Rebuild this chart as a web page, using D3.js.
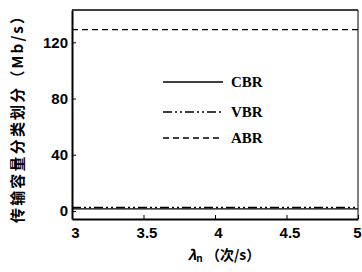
<!DOCTYPE html>
<html>
<head>
<meta charset="utf-8">
<script src="https://cdn.jsdelivr.net/npm/d3@7"></script>
<style>
  body { margin: 0; background: #fff; }
</style>
</head>
<body>
<div id="plot"></div>
<script>
// values
const xs = [3, 3.5, 4, 4.5, 5];
const cbr = [1.5, 1.5, 1.5, 1.5, 1.5];
const vbr = [2.5, 2.5, 2.5, 2.5, 2.5];
const abr = [129, 129, 129, 129, 129];
const xTicks = [3, 3.5, 4, 4.5, 5];
const yTicks = [0, 40, 80, 120];
const names = ["CBR", "VBR", "ABR"];

const W = 362, H = 272;
const mLeft = 72, mRight = 358, mTop = 10, mBottom = 219;

const svg = d3.select("div#plot").append("svg")
  .attr("width", W).attr("height", H);

const x = d3.scaleLinear().domain([3, 5]).range([mLeft, mRight]);
const y = d3.scaleLinear().domain([-5.7, 143]).range([mBottom, mTop]);

const dashes = ["none", "9,3,2,3,2,3", "6,4"];
const series = [cbr, vbr, abr];

// frame
svg.append("line").attr("x1", mLeft).attr("x2", mRight).attr("y1", mTop).attr("y2", mTop)
  .attr("stroke", "#000").attr("stroke-width", 1.4);
svg.append("line").attr("x1", mRight).attr("x2", mRight).attr("y1", mTop).attr("y2", mBottom)
  .attr("stroke", "#000").attr("stroke-width", 1);

const line = d3.line().x((d, i) => x(xs[i])).y(d => y(d));
svg.selectAll(".series")
  .data(series)
  .enter().append("path")
  .attr("class", "series")
  .attr("d", d => line(d))
  .attr("fill", "none")
  .attr("stroke", "#000")
  .attr("stroke-width", 1.3)
  .attr("stroke-dasharray", (d, i) => dashes[i]);

// axes
const xAxis = d3.axisBottom(x).tickValues(xTicks).tickSizeInner(-4).tickSizeOuter(0)
  .tickPadding(8).tickFormat(d3.format("~g"));
const gx = svg.append("g").attr("transform", `translate(0,${mBottom})`).call(xAxis);
const yAxis = d3.axisLeft(y).tickValues(yTicks).tickSizeInner(-4).tickSizeOuter(0)
  .tickPadding(4);
const gy = svg.append("g").attr("transform", `translate(${mLeft},0)`).call(yAxis);

[gx, gy].forEach(g => {
  g.select(".domain").attr("stroke", "#000").attr("stroke-width", 2);
  g.selectAll(".tick line").attr("stroke", "#000").attr("stroke-width", 1);
  g.selectAll("text").attr("font-family", "Liberation Sans, Arial, sans-serif")
    .attr("font-size", 15).attr("font-weight", "bold").attr("fill", "#000");
});
gx.selectAll("text").attr("dx", 3);
// last label sits at the right edge, keep it inside
gx.selectAll(".tick text").filter(d => d === 5)
  .attr("text-anchor", "end").attr("dx", 3);

// legend
const legY = [82, 112, 138];
svg.selectAll(".leg-line")
  .data(names)
  .enter().append("line")
  .attr("class", "leg-line")
  .attr("x1", 163).attr("x2", 223)
  .attr("y1", (d, i) => legY[i]).attr("y2", (d, i) => legY[i])
  .attr("stroke", "#000").attr("stroke-width", 1.5)
  .attr("stroke-dasharray", (d, i) => dashes[i]);
svg.selectAll(".leg-text")
  .data(names)
  .enter().append("text")
  .attr("class", "leg-text")
  .attr("x", 231)
  .attr("y", (d, i) => legY[i])
  .attr("dominant-baseline", "central")
  .attr("font-family", "Liberation Serif, Times New Roman, serif")
  .attr("font-size", 15)
  .attr("font-weight", "bold")
  .text(d => d);

// axis titles
svg.append("text")
  .attr("transform", `translate(16,${(8 + 224) / 2}) rotate(-90)`)
  .attr("text-anchor", "middle")
  .attr("dominant-baseline", "central")
  .attr("font-family", "Noto Sans CJK SC, sans-serif")
  .attr("font-size", 15)
  .attr("font-weight", "bold")
  .attr("textLength", 214)
  .attr("lengthAdjust", "spacing")
  .text("传输容量分类划分（Mb/s）");

const xt = svg.append("text")
  .attr("x", 224).attr("y", 254)
  .attr("text-anchor", "middle")
  .attr("dominant-baseline", "central")
  .attr("font-family", "Noto Sans CJK SC, sans-serif")
  .attr("font-size", 14)
  .attr("font-weight", "bold");
xt.append("tspan").attr("font-style", "italic").text("λ");
xt.append("tspan").attr("font-size", 10).attr("dy", 3).text("n");
xt.append("tspan").attr("dy", -3).text(" （次/s）");
</script>
</body>
</html>
